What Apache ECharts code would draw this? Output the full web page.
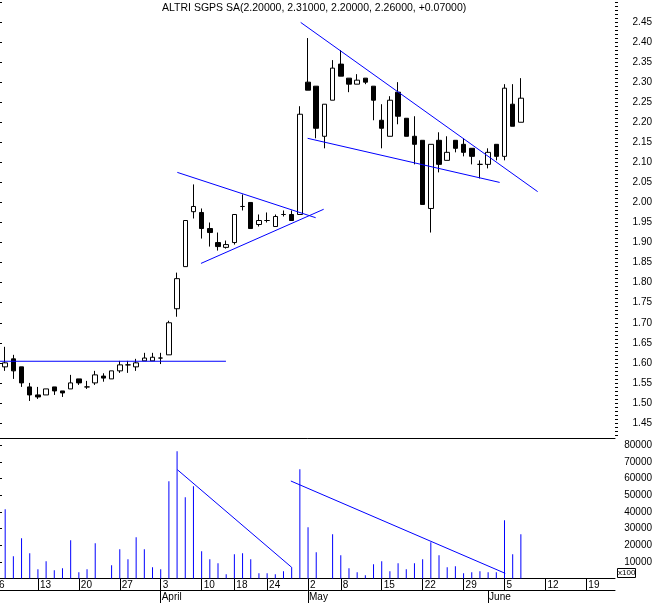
<!DOCTYPE html>
<html>
<head>
<meta charset="utf-8">
<script src="https://cdn.jsdelivr.net/npm/echarts@6/dist/echarts.min.js"></script>
<style>
  html, body { margin: 0; padding: 0; background: #fff; }
  #chart { width: 656px; height: 603px; }
</style>
</head>
<body>
<div id="chart"></div>
<script>
// trading days on the axis (2006), first one has no visible candle
const dates = [
  '2006-03-06', '2006-03-07', '2006-03-08', '2006-03-09', '2006-03-10',
  '2006-03-13', '2006-03-14', '2006-03-15', '2006-03-16', '2006-03-17',
  '2006-03-20', '2006-03-21', '2006-03-22', '2006-03-23', '2006-03-24',
  '2006-03-27', '2006-03-28', '2006-03-29', '2006-03-30', '2006-03-31',
  '2006-04-03', '2006-04-04', '2006-04-05', '2006-04-06', '2006-04-07',
  '2006-04-10', '2006-04-11', '2006-04-12', '2006-04-13',
  '2006-04-18', '2006-04-19', '2006-04-20', '2006-04-21',
  '2006-04-24', '2006-04-25', '2006-04-26', '2006-04-27', '2006-04-28',
  '2006-05-02', '2006-05-03', '2006-05-04', '2006-05-05',
  '2006-05-08', '2006-05-09', '2006-05-10', '2006-05-11', '2006-05-12',
  '2006-05-15', '2006-05-16', '2006-05-17', '2006-05-18', '2006-05-19',
  '2006-05-22', '2006-05-23', '2006-05-24', '2006-05-25', '2006-05-26',
  '2006-05-29', '2006-05-30', '2006-05-31', '2006-06-01', '2006-06-02',
  '2006-06-05', '2006-06-06', '2006-06-07', '2006-06-08', '2006-06-09',
  '2006-06-12', '2006-06-13', '2006-06-14', '2006-06-15', '2006-06-16',
  '2006-06-19', '2006-06-20', '2006-06-21', '2006-06-22'
]

const open = [null,
  1.59, 1.61, 1.59, 1.54, 1.52, 1.52, 1.54, 1.53, 1.535, 1.56,
  1.54, 1.55, 1.567, 1.56, 1.58, 1.595, 1.59, 1.605, 1.605, 1.612,
  1.62, 1.735, 1.84, 1.977, 1.975, 1.935, 1.90, 1.888, 1.90, 1.99,
  2.00, 1.945, 1.955, 1.94, 1.97, 1.97, 1.97, 2.30, 2.29, 2.165,
  2.255, 2.345, 2.31, 2.295, 2.31, 2.29, 2.205, 2.165, 2.275, 2.21,
  2.165, 2.155, 1.985, 2.155, 2.105, 2.155, 2.145, 2.135, 2.095, 2.095,
  2.145, 2.115, 2.245, 2.20]
const close = [null,
  1.60, 1.58, 1.55, 1.52, 1.515, 1.535, 1.53, 1.525, 1.55, 1.55,
  1.54, 1.57, 1.562, 1.58, 1.595, 1.595, 1.60, 1.612, 1.614, 1.612,
  1.70, 1.81, 1.955, 1.99, 1.935, 1.925, 1.89, 1.895, 1.97, 1.99,
  1.935, 1.955, 1.955, 1.965, 1.97, 1.955, 2.22, 2.28, 2.185, 2.245,
  2.335, 2.315, 2.295, 2.305, 2.30, 2.255, 2.185, 2.255, 2.215, 2.165,
  2.145, 1.995, 2.145, 2.095, 2.125, 2.135, 2.125, 2.115, 2.095, 2.125,
  2.115, 2.285, 2.19, 2.26]
const low = [null,
  1.58, 1.56, 1.54, 1.505, 1.51, 1.52, 1.52, 1.515, 1.535, 1.545,
  1.535, 1.545, 1.553, 1.56, 1.575, 1.575, 1.58, 1.605, 1.605, 1.597,
  1.62, 1.715, 1.84, 1.96, 1.91, 1.89, 1.88, 1.885, 1.895, 1.98,
  1.935, 1.94, 1.95, 1.94, 1.965, 1.955, 1.97, 2.28, 2.16, 2.135,
  2.255, 2.315, 2.275, 2.295, 2.295, 2.205, 2.135, 2.165, 2.195, 2.165,
  2.095, 1.995, 1.925, 2.075, 2.105, 2.125, 2.115, 2.095, 2.06, 2.085,
  2.105, 2.105, 2.19, 2.20]
const high = [null,
  1.64, 1.62, 1.59, 1.55, 1.54, 1.535, 1.54, 1.53, 1.57, 1.56,
  1.555, 1.58, 1.574, 1.58, 1.605, 1.605, 1.61, 1.625, 1.625, 1.625,
  1.705, 1.825, 1.955, 2.045, 1.985, 1.95, 1.925, 1.905, 1.97, 2.02,
  2.00, 1.97, 1.975, 1.97, 1.98, 1.98, 2.24, 2.41, 2.29, 2.245,
  2.355, 2.38, 2.31, 2.32, 2.31, 2.29, 2.245, 2.265, 2.30, 2.21,
  2.215, 2.155, 2.145, 2.175, 2.165, 2.155, 2.16, 2.135, 2.105, 2.135,
  2.145, 2.295, 2.295, 2.31]
// volume, in units of 100 shares
const volume = [null,
  41600, 13400, 24200, 15200, 5600, 10400, 5000, 6200, 23000, 3800,
  5600, 21200, 0, 8000, 17600, 11600, 24800, 17600, 6800, 5600,
  58400, 76400, 48800, 55400, 16400, 11600, 9200, 2600, 14600, 15200,
  11600, 3200, 3200, 2600, 4400, 6800, 65600, 30800, 15800, 0,
  26600, 14000, 6200, 3800, 2000, 8600, 10400, 4400, 9200, 5600,
  9200, 11600, 21800, 14000, 6800, 7400, 3200, 3800, 4400, 3800,
  3800, 35000, 14600, 26600]

const weekStarts = ['2006-03-06', '2006-03-13', '2006-03-20', '2006-03-27', '2006-04-03',
  '2006-04-10', '2006-04-18', '2006-04-24', '2006-05-02', '2006-05-08', '2006-05-15',
  '2006-05-22', '2006-05-29', '2006-06-05', '2006-06-12', '2006-06-19']
const monthStarts = ['2006-04-03', '2006-05-02', '2006-06-01']
const monthNames = ['April', 'May', 'June']
const priceLabels = [1.45, 1.50, 1.55, 1.60, 1.65, 1.70, 1.75, 1.80, 1.85, 1.90, 1.95,
  2.00, 2.05, 2.10, 2.15, 2.20, 2.25, 2.30, 2.35, 2.40, 2.45]
const volumeLabels = [10000, 20000, 30000, 40000, 50000, 60000, 70000, 80000]

// drawn trend lines, [day index, value] end points
const priceTrendLines = [
  [[-0.5, 1.604], [27.97, 1.604]],
  [[22.03, 2.075], [38.93, 1.962]],
  [[24.92, 1.848], [39.91, 1.983]],
  [[37.1, 2.449], [66.05, 2.027]],
  [[37.95, 2.16], [61.41, 2.050]]
]
const volumeTrendLines = [
  [[22.03, 65300], [36.0, 6700]],
  [[35.9, 58500], [62.09, 3100]]
]

const font = 'Liberation Sans, Arial, sans-serif'
const blue = '#0000ff'

const candleData = dates.map((d, i) => open[i] == null ? '-' : [open[i], close[i], low[i], high[i]])
const volData = dates.map((d, i) => volume[i] == null ? '-' : volume[i])

const last = open.length - 1
const f5 = v => v.toFixed(5)
const change = close[last] - close[last - 1]
const titleText = 'ALTRI SGPS SA(' + f5(open[last]) + ', ' + f5(high[last]) + ', ' + f5(low[last]) +
  ', ' + f5(close[last]) + ', ' + (change >= 0 ? '+' : '') + f5(change) + ')'

const minorTicks = []
for (let k = 142; k <= 250; k++) minorTicks.push(k / 100)

const chart = echarts.init(document.getElementById('chart'))
const gridLeft = -7.1
const gridRight = 41

chart.setOption({
  animation: false,
  backgroundColor: '#fff',
  title: {
    text: titleText,
    left: 162,
    top: 3,
    padding: 0,
    textStyle: { fontFamily: font, fontSize: 10.5, fontWeight: 'normal', color: '#000' }
  },
  grid: [
    { left: gridLeft, right: gridRight, top: 0, height: 438, outerBoundsMode: 'none' },
    { left: gridLeft, right: gridRight, top: 438, height: 140.5, outerBoundsMode: 'none' }
  ],
  xAxis: [
    {
      type: 'category', gridIndex: 0, data: dates,
      axisLine: { show: true, lineStyle: { color: '#000', width: 1 } },
      axisTick: { show: false }, axisLabel: { show: false }, splitLine: { show: false }
    },
    { type: 'value', gridIndex: 0, min: -0.5, max: dates.length - 0.5, show: false },
    {
      type: 'category', gridIndex: 1, data: dates,
      axisLine: { show: true, lineStyle: { color: '#000', width: 1 } },
      axisTick: {
        show: true, alignWithLabel: true, length: 12, lineStyle: { color: '#000' },
        interval: (i, v) => weekStarts.includes(v)
      },
      axisLabel: {
        show: true, interval: (i, v) => weekStarts.includes(v),
        formatter: v => String(parseInt(v.slice(8), 10)),
        align: 'left', margin: 2, padding: [0, 0, 0, 2],
        color: '#000', fontFamily: font, fontSize: 10
      },
      splitLine: { show: false }
    },
    {
      type: 'category', gridIndex: 1, data: dates, position: 'bottom', offset: 12,
      axisLine: { show: true, lineStyle: { color: '#000', width: 1 } },
      axisTick: {
        show: true, alignWithLabel: true, length: 13, lineStyle: { color: '#000' },
        interval: (i, v) => monthStarts.includes(v)
      },
      axisLabel: {
        show: true, interval: (i, v) => monthStarts.includes(v),
        formatter: v => monthNames[monthStarts.indexOf(v)] || '',
        align: 'left', margin: 2, padding: [0, 0, 0, 1],
        color: '#000', fontFamily: font, fontSize: 10
      },
      splitLine: { show: false }
    },
    { type: 'value', gridIndex: 1, min: -0.5, max: dates.length - 0.5, show: false }
  ],
  yAxis: [
    {
      type: 'value', gridIndex: 0, position: 'right', min: 1.4126, max: 2.5049, scale: true,
      axisLine: { show: true, lineStyle: { color: '#000', width: 1 } },
      axisTick: { show: true, length: 5, customValues: priceLabels.concat([2.50]), lineStyle: { color: '#000' } },
      axisLabel: {
        show: true, customValues: priceLabels, formatter: v => v.toFixed(2),
        align: 'right', margin: 37, color: '#000', fontFamily: font, fontSize: 10
      },
      splitLine: { show: false }
    },
    {
      type: 'value', gridIndex: 0, position: 'right', min: 1.4126, max: 2.5049, scale: true,
      axisLine: { show: false },
      axisTick: { show: true, length: 3, customValues: minorTicks, lineStyle: { color: '#000' } },
      axisLabel: { show: false }, splitLine: { show: false }
    },
    {
      type: 'value', gridIndex: 1, position: 'right', min: 0, max: 84300,
      axisLine: { show: true, lineStyle: { color: '#000', width: 1 } },
      axisTick: { show: true, length: 5, customValues: volumeLabels, lineStyle: { color: '#000' } },
      axisLabel: {
        show: true, customValues: volumeLabels, formatter: v => String(v),
        align: 'right', margin: 37, color: '#000', fontFamily: font, fontSize: 10
      },
      splitLine: { show: false }
    }
  ],
  graphic: [
    {
      type: 'rect', left: 617, top: 568, shape: { width: 18, height: 9 },
      style: { fill: '#fff', stroke: '#000', lineWidth: 1 }
    },
    {
      type: 'text', left: 618, top: 569,
      style: { text: 'x100', fontFamily: font, fontSize: 8, fill: '#000' }
    }
  ],
  series: [
    {
      type: 'candlestick', xAxisIndex: 0, yAxisIndex: 0, barWidth: 5, data: candleData,
      itemStyle: {
        color: '#fff', color0: '#000', borderColor: '#000', borderColor0: '#000',
        borderColorDoji: '#000', borderWidth: 1
      },
      silent: true
    },
    {
      type: 'bar', xAxisIndex: 2, yAxisIndex: 2, barWidth: 1, data: volData,
      itemStyle: { color: blue }, silent: true
    }
  ].concat(priceTrendLines.map(seg => ({
    type: 'line', xAxisIndex: 1, yAxisIndex: 0, data: seg, symbol: 'none', silent: true,
    lineStyle: { color: blue, width: 1 }
  }))).concat(volumeTrendLines.map(seg => ({
    type: 'line', xAxisIndex: 4, yAxisIndex: 2, data: seg, symbol: 'none', silent: true,
    lineStyle: { color: blue, width: 1 }
  })))
})
</script>
</body>
</html>
